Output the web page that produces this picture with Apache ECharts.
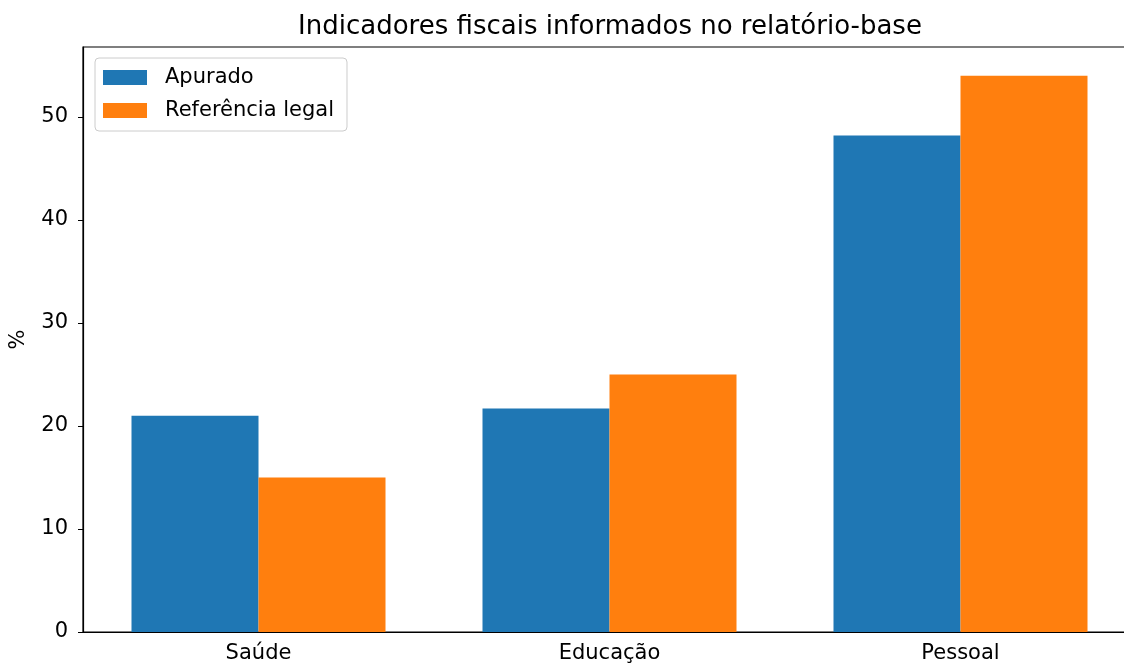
<!DOCTYPE html>
<html>
<head>
<meta charset="utf-8">
<script src="https://cdn.jsdelivr.net/npm/echarts@6/dist/echarts.min.js"></script>
<style>
	html, body { margin: 0; padding: 0; background: #fff; overflow: hidden; }
	#chart { width: 1140px; height: 668px; }
</style>
</head>
<body>
<div id="chart"></div>
<script>
//   categorias
var categories = ['Saúde', 'Educação', 'Pessoal'];
//   séries (%)
var apurado = [21.0, 21.7, 48.2];
var referencia = [15, 25, 54];
var yTicks = [0, 10, 20, 30, 40, 50];

var font = 'DejaVu Sans';
var chart = echarts.init(document.getElementById('chart'));

var option = {
	animation: false,
	backgroundColor: '#fff',
	title: {
		text: 'Indicadores fiscais informados no relatório-base',
		left: 605,
		top: 9,
		textAlign: 'center',
		textStyle: { fontFamily: font, fontSize: 26, fontWeight: 'normal', color: '#000' }
	},
	legend: {
		left: 95,
		top: 58,
		orient: 'vertical',
		icon: 'rect',
		itemWidth: 44,
		itemHeight: 15,
		itemGap: 10,
		padding: [8, 13, 9, 8],
		borderColor: '#ccc',
		borderWidth: 1,
		borderRadius: 4,
		backgroundColor: 'rgba(255,255,255,0.8)',
		textStyle: { fontFamily: font, fontSize: 21, color: '#000', lineHeight: 23, padding: [0, 0, 0, 13] },
		data: ['Apurado', 'Referência legal']
	},
	grid: {
		left: 83, right: 4, top: 47, bottom: 36,
		outerBoundsMode: 'none',
		containLabel: false,
		show: true, borderColor: '#000', borderWidth: 1.2, backgroundColor: 'transparent'
	},
	xAxis: {
		type: 'category',
		data: categories,
		axisLine: { lineStyle: { color: '#000', width: 1.2 } },
		axisTick: { alignWithLabel: true, length: 5, lineStyle: { color: '#000' } },
		axisLabel: { fontFamily: font, fontSize: 21, color: '#000', margin: 11 }
	},
	yAxis: {
		type: 'value',
		min: 0,
		max: 56.8,
		name: '%',
		nameLocation: 'middle',
		nameGap: 54,
		nameTextStyle: { fontFamily: font, fontSize: 21, color: '#000' },
		axisLine: { show: true, lineStyle: { color: '#000', width: 1.2 } },
		axisTick: { show: true, length: 5, lineStyle: { color: '#000' }, customValues: yTicks },
		axisLabel: { fontFamily: font, fontSize: 21, color: '#000', margin: 15, customValues: yTicks },
		splitLine: { show: false }
	},
	series: [
		{
			name: 'Apurado',
			type: 'bar',
			data: apurado,
			barWidth: 127,
			barGap: '0%',
			itemStyle: { color: '#1f77b4' }
		},
		{
			name: 'Referência legal',
			type: 'bar',
			data: referencia,
			barWidth: 127,
			barGap: '0%',
			itemStyle: { color: '#ff7f0e' }
		}
	]
};

chart.setOption(option);
</script>
</body>
</html>
